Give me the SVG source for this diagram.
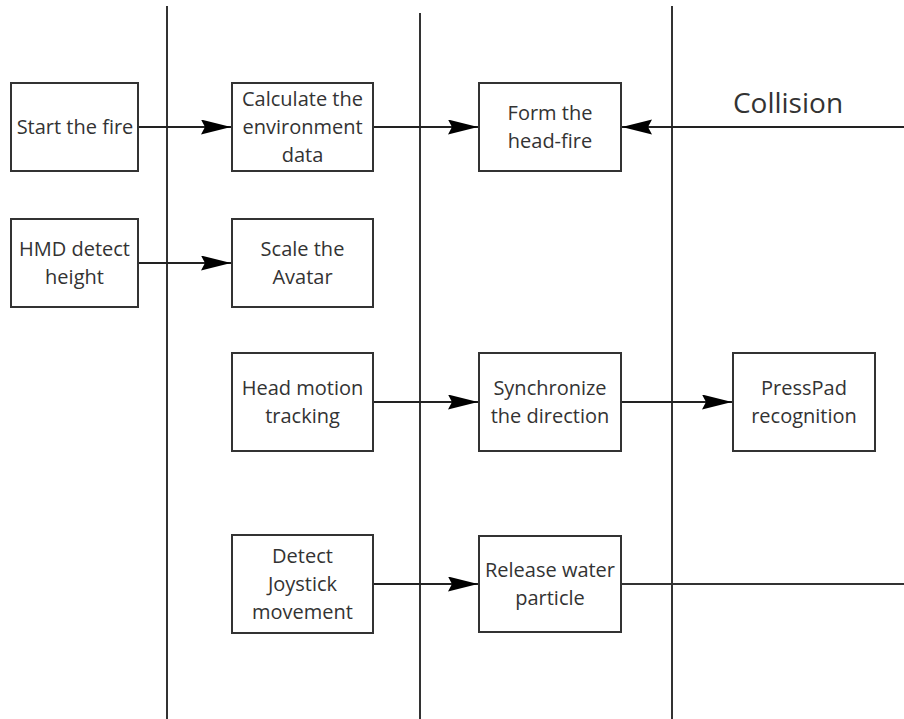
<svg xmlns="http://www.w3.org/2000/svg" width="904" height="719" viewBox="0 0 904 719">
<style>
.box{fill:#fff;stroke:#333;stroke-width:2}
.t{font-family:"Open Sans","Noto Sans","Liberation Sans",sans-serif;font-size:20px;fill:#333;text-anchor:middle}
.big{font-family:"Open Sans","Noto Sans","Liberation Sans",sans-serif;font-size:28px;fill:#333;text-anchor:middle}
.ln{stroke:#333;stroke-width:2;fill:none}
.arr{stroke:#222;stroke-width:2;fill:none;marker-end:url(#ah)}
</style>
<defs>
<marker id="ah" markerUnits="userSpaceOnUse" markerWidth="31" markerHeight="16" refX="30" refY="7.5" orient="auto">
<path d="M0,0 L30,7.5 L0,15 L4,7.5 z" fill="#000"/>
</marker>
</defs>
<rect width="904" height="719" fill="#fff"/>
<g id="lanes">
<line class="ln" x1="167" y1="6" x2="167" y2="719"/>
<line class="ln" x1="420" y1="13" x2="420" y2="719"/>
<line class="ln" x1="672" y1="6" x2="672" y2="719"/>
</g>
<g id="connectors">
<line class="arr" x1="138" y1="127" x2="231" y2="127"/>
<line class="arr" x1="373" y1="127" x2="478" y2="127"/>
<line class="arr" x1="904" y1="127" x2="622" y2="127"/>
<line class="arr" x1="138" y1="263" x2="231" y2="263"/>
<line class="arr" x1="373" y1="402" x2="478" y2="402"/>
<line class="arr" x1="621" y1="402" x2="732" y2="402"/>
<line class="arr" x1="373" y1="584" x2="478" y2="584"/>
<line class="ln" x1="621" y1="584" x2="904" y2="584"/>
<text class="big" x="788" y="113">Collision</text>
</g>
<g id="start-fire">
<rect class="box" x="11" y="83" width="127" height="88"/>
<text class="t" x="75" y="134">Start the fire</text>
</g>
<g id="calc-env">
<rect class="box" x="232" y="83" width="141" height="88"/>
<text class="t" x="302.5" y="106">Calculate the</text>
<text class="t" x="302.5" y="134">environment</text>
<text class="t" x="302.5" y="162">data</text>
</g>
<g id="form-headfire">
<rect class="box" x="479" y="83" width="142" height="88"/>
<text class="t" x="550" y="119.5">Form the</text>
<text class="t" x="550" y="147.5">head-fire</text>
</g>
<g id="hmd">
<rect class="box" x="11" y="219" width="127" height="88"/>
<text class="t" x="74.5" y="256">HMD detect</text>
<text class="t" x="74.5" y="284">height</text>
</g>
<g id="scale-avatar">
<rect class="box" x="232" y="219" width="141" height="88"/>
<text class="t" x="302.5" y="256">Scale the</text>
<text class="t" x="302.5" y="284">Avatar</text>
</g>
<g id="head-motion">
<rect class="box" x="232" y="353" width="141" height="98"/>
<text class="t" x="302.5" y="395">Head motion</text>
<text class="t" x="302.5" y="423">tracking</text>
</g>
<g id="sync-dir">
<rect class="box" x="479" y="353" width="142" height="98"/>
<text class="t" x="550" y="395">Synchronize</text>
<text class="t" x="550" y="423">the direction</text>
</g>
<g id="presspad">
<rect class="box" x="733" y="353" width="142" height="98"/>
<text class="t" x="804" y="395">PressPad</text>
<text class="t" x="804" y="423">recognition</text>
</g>
<g id="joystick">
<rect class="box" x="232" y="535" width="141" height="98"/>
<text class="t" x="302.5" y="562.5">Detect</text>
<text class="t" x="302.5" y="590.5">Joystick</text>
<text class="t" x="302.5" y="618.5">movement</text>
</g>
<g id="release-water">
<rect class="box" x="479" y="536" width="142" height="96"/>
<text class="t" x="550" y="576.5">Release water</text>
<text class="t" x="550" y="604.5">particle</text>
</g>
</svg>
